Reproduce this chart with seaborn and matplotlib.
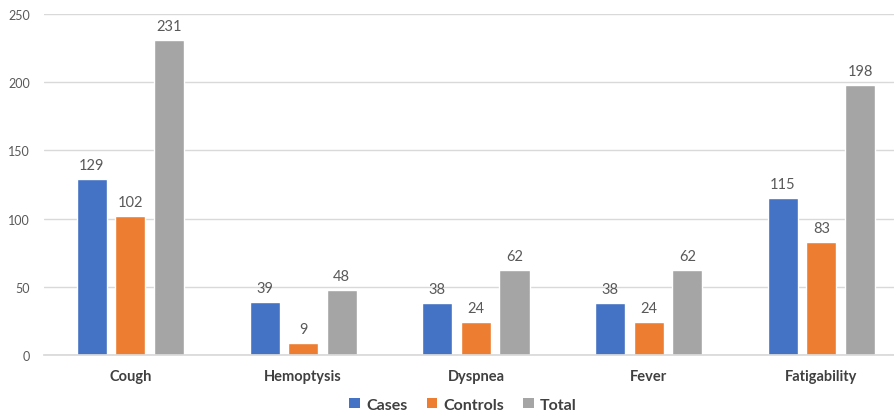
import matplotlib
matplotlib.use("Agg")
import matplotlib.pyplot as plt
import seaborn as sns
import pandas as pd
from matplotlib.patches import Patch

symptoms = ["Cough", "Hemoptysis", "Dyspnea", "Fever", "Fatigability"]
cases = [129, 39, 38, 38, 115]
controls = [102, 9, 24, 24, 83]
total = [231, 48, 62, 62, 198]
groups = ["Cases", "Controls", "Total"]
colors = ["#4472C4", "#ED7D31", "#A5A5A5"]

df = pd.DataFrame({
    "Symptom": symptoms * 3,
    "Group": [g for g in groups for _ in symptoms],
    "Count": cases + controls + total,
})

sns.set_theme(style="white")
plt.rcParams["font.family"] = ["Lato", "DejaVu Sans"]

fig = plt.figure(figsize=(8.94, 4.14), dpi=100)
ax = fig.add_axes([0.0492, 0.1401, 0.9508, 0.8237])

sns.barplot(data=df, x="Symptom", y="Count", hue="Group", order=symptoms,
            hue_order=groups, palette=colors, width=0.67, gap=0.22,
            saturation=1, legend=False, ax=ax)

for container in ax.containers:
    ax.bar_label(container, fmt="%d", padding=5, fontsize=10.5, color="#595959")

ax.set_ylim(0, 250)
ax.set_xlim(-0.5, 4.42)
ax.set_yticks([0, 50, 100, 150, 200, 250])
ax.yaxis.grid(True, color="#D9D9D9", linewidth=1)
ax.set_axisbelow(True)
for s in ["top", "right", "left"]:
    ax.spines[s].set_visible(False)
ax.spines["bottom"].set_color("#D9D9D9")
ax.set_xlabel("")
ax.set_ylabel("")
ax.tick_params(axis="y", length=0, labelsize=9, labelcolor="#595959", pad=10)
ax.tick_params(axis="x", length=0, labelsize=10.5, labelcolor="#404040", pad=10)
for lbl in ax.get_xticklabels():
    lbl.set_fontweight("bold")

handles = [Patch(facecolor=c, edgecolor="none") for c in colors]
fig.legend(handles, groups, loc="center", bbox_to_anchor=(0.518, 0.02), ncol=3,
           frameon=False, handlelength=0.65, handleheight=0.65, handletextpad=0.4,
           columnspacing=1.2, prop={"size": 11.5, "weight": "bold"},
           labelcolor="#404040")

fig.savefig("out.png", dpi=100)
